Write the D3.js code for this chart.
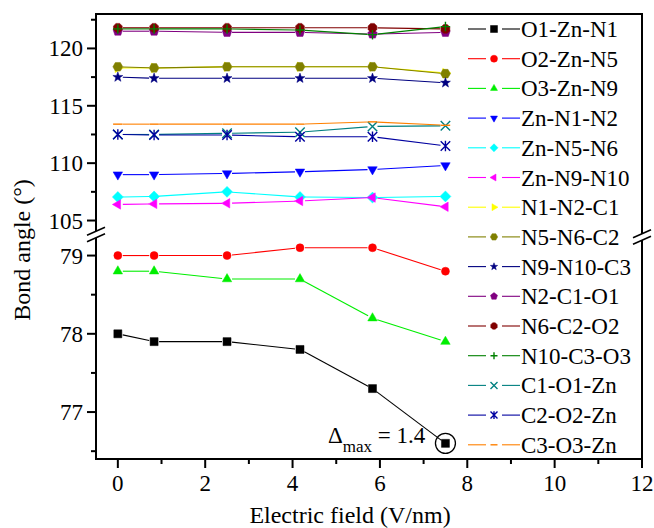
<!DOCTYPE html>
<html><head><meta charset="utf-8">
<script src="https://cdn.jsdelivr.net/npm/d3@7"></script>
<style>body{margin:0;background:#fff}svg{display:block}</style>
</head><body><svg id="c" width="654" height="528" font-family="'Liberation Serif', 'Times New Roman', Times, Tinos, 'Nimbus Roman', 'Nimbus Roman No9 L', FreeSerif, 'Noto Serif', 'Noto Serif CJK SC', 'DejaVu Serif', serif"></svg>
<script>
// ---------- data ----------
const xValues = [0, 0.83, 2.5, 4.17, 5.83, 7.5];
const seriesNames = ["O1-Zn-N1","O2-Zn-N5","O3-Zn-N9","Zn-N1-N2","Zn-N5-N6","Zn-N9-N10","N1-N2-C1","N5-N6-C2","N9-N10-C3","N2-C1-O1","N6-C2-O2","N10-C3-O3","C1-O1-Zn","C2-O2-Zn","C3-O3-Zn"];
const O1_Zn_N1  = [78.0, 77.9, 77.9, 77.8, 77.3, 76.6];
const O2_Zn_N5  = [79.0, 79.0, 79.0, 79.1, 79.1, 78.8];
const O3_Zn_N9  = [78.8, 78.8, 78.7, 78.7, 78.2, 77.9];
const Zn_N1_N2  = [109.0, 109.0, 109.1, 109.25, 109.45, 109.8];
const Zn_N5_N6  = [107.05, 107.1, 107.5, 107.05, 107.0, 107.1];
const Zn_N9_N10 = [106.4, 106.45, 106.5, 106.7, 107.0, 106.2];
const N1_N2_C1  = [118.3, 118.3, 118.4, 118.4, 118.4, 117.85];
const N5_N6_C2  = [118.4, 118.3, 118.4, 118.4, 118.4, 117.8];
const N9_N10_C3 = [117.5, 117.4, 117.4, 117.4, 117.4, 117.0];
const N2_C1_O1  = [121.5, 121.5, 121.4, 121.4, 121.25, 121.4];
const N6_C2_O2  = [121.8, 121.8, 121.8, 121.8, 121.8, 121.7];
const N10_C3_O3 = [121.7, 121.7, 121.7, 121.6, 121.2, 121.9];
const C1_O1_Zn  = [112.5, 112.5, 112.6, 112.7, 113.2, 113.25];
const C2_O2_Zn  = [112.5, 112.45, 112.45, 112.3, 112.3, 111.5];
const C3_O3_Zn  = [113.4, 113.4, 113.4, 113.4, 113.6, 113.3];
const seriesValues = [O1_Zn_N1,O2_Zn_N5,O3_Zn_N9,Zn_N1_N2,Zn_N5_N6,Zn_N9_N10,N1_N2_C1,N5_N6_C2,N9_N10_C3,N2_C1_O1,N6_C2_O2,N10_C3_O3,C1_O1_Zn,C2_O2_Zn,C3_O3_Zn];
const seriesColors = ["#000000","#FF0000","#00EE00","#0000FF","#00FFFF","#FF00FF","#FFFF00","#808000","#000080","#800080","#800000","#008000","#008080","#0000A0","#FF8000"];
const seriesSymbols = ["square","circle","triUp","triDown","diamond","triLeft","triRight","hexagon","star","pentagon","octagon","plus","cross","asterisk","dash"];
const xTicks = [0,2,4,6,8,10,12];
const xMinorTicks = [1,3,5,7,9,11];
const yUpperTicks = [105,110,115,120];
const yUpperMinor = [107.5,112.5,117.5,122.5];
const yLowerTicks = [77,78,79];
const yLowerMinor = [76.5,77.5,78.5];
const annotation = {value:"1.4"};

// ---------- layout ----------
const svg = d3.select("#c");
const L=96, R=642, T=14, B=459;
const x = d3.scaleLinear().domain([-0.5,12]).range([L,R]);
const yU = d3.scaleLinear().domain([104,123]).range([232,T]);
const yL = d3.scaleLinear().domain([76.4,79.25]).range([B,236]);
const yFor = v => v > 90 ? yU(v) : yL(v);

// ---------- markers ----------
function poly(n, r, rot){ const p=[]; for(let i=0;i<n;i++){const a=rot+i*2*Math.PI/n; p.push([r*Math.cos(a), r*Math.sin(a)]);} return "M"+p.map(d=>d.join(",")).join("L")+"Z"; }
function markerPath(type, s){
  const r=s/2;
  switch(type){
    case "square": return `M${-r},${-r}H${r}V${r}H${-r}Z`;
    case "circle": return d3.symbol(d3.symbolCircle, Math.PI*r*r)();
    case "triUp": return poly(3, r*1.15, -Math.PI/2);
    case "triDown": return poly(3, r*1.15, Math.PI/2);
    case "triLeft": return poly(3, r*1.15, Math.PI);
    case "triRight": return poly(3, r*1.15, 0);
    case "diamond": return poly(4, r*1.15, 0);
    case "hexagon": return poly(6, r*1.05, 0);
    case "octagon": return poly(8, r, Math.PI/8);
    case "pentagon": return poly(5, r*1.05, -Math.PI/2);
    case "star": { const p=[]; for(let i=0;i<10;i++){const a=-Math.PI/2+i*Math.PI/5; const rr=i%2?r*0.45:r*1.1; p.push([rr*Math.cos(a), rr*Math.sin(a)]);} return "M"+p.map(d=>d.join(",")).join("L")+"Z"; }
    case "plus": return `M${-r},0H${r}M0,${-r}V${r}`;
    case "cross": return `M${-r},${-r}L${r},${r}M${-r},${r}L${r},${-r}`;
    case "asterisk": return `M${-r},${-r}L${r},${r}M${-r},${r}L${r},${-r}M0,${-r*1.1}V${r*1.1}`;
    case "dash": return `M${-r},0H${r}`;
  }
}
const strokeOnly = t => ["plus","cross","asterisk","dash"].includes(t);
function drawMarker(g, type, color, cx, cy, s){
  const p = g.append("path").attr("d", markerPath(type,s)).attr("transform",`translate(${cx},${cy})`);
  if(strokeOnly(type)) p.attr("fill","none").attr("stroke",color).attr("stroke-width",1.4);
  else p.attr("fill",color).attr("stroke",color).attr("stroke-width",0.5);
}

// ---------- series ----------
const gap = 5;
seriesValues.forEach((vals, si) => {
  const g = svg.append("g");
  const color = seriesColors[si];
  const pts = vals.map((v,i)=>[x(xValues[i]), yFor(v)]);
  for(let i=0;i<pts.length-1;i++){
    const [x1,y1]=pts[i],[x2,y2]=pts[i+1];
    const dx=x2-x1, dy=y2-y1, len=Math.hypot(dx,dy);
    if(len<=2*gap) continue;
    const ux=dx/len, uy=dy/len;
    g.append("line").attr("x1",x1+ux*gap).attr("y1",y1+uy*gap).attr("x2",x2-ux*gap).attr("y2",y2-uy*gap)
      .attr("stroke",color).attr("stroke-width",1.1);
  }
  const sz = ["square","circle"].includes(seriesSymbols[si]) ? 8 : 9.5;
  pts.forEach(([cx,cy])=>drawMarker(g, seriesSymbols[si], color, cx, cy, sz));
});

// ---------- annotation ----------
const last = O1_Zn_N1.length-1;
svg.append("circle").attr("cx",x(xValues[last])).attr("cy",yL(O1_Zn_N1[last])).attr("r",10)
  .attr("fill","none").attr("stroke","#000").attr("stroke-width",1.3);
const at = svg.append("text").attr("x",328).attr("y",443).attr("font-size",23);
at.append("tspan").text("Δ");
at.append("tspan").attr("font-size",17).attr("dy",9).text("max");
at.append("tspan").attr("dy",-9).text(" = "+annotation.value);

// ---------- axes ----------
const ax = svg.append("g").attr("stroke","#000").attr("fill","none");
ax.append("path").attr("d",`M${L},${T}H${R}V${B}H${L}Z`).attr("stroke-width",2);
xTicks.forEach(t=>ax.append("line").attr("x1",x(t)).attr("x2",x(t)).attr("y1",B).attr("y2",B+9).attr("stroke-width",2));
xMinorTicks.forEach(t=>ax.append("line").attr("x1",x(t)).attr("x2",x(t)).attr("y1",B).attr("y2",B+5).attr("stroke-width",2));
yUpperTicks.forEach(t=>ax.append("line").attr("x1",L-9).attr("x2",L).attr("y1",yU(t)).attr("y2",yU(t)).attr("stroke-width",2));
yUpperMinor.forEach(t=>ax.append("line").attr("x1",L-5).attr("x2",L).attr("y1",yU(t)).attr("y2",yU(t)).attr("stroke-width",2));
yLowerTicks.forEach(t=>ax.append("line").attr("x1",L-9).attr("x2",L).attr("y1",yL(t)).attr("y2",yL(t)).attr("stroke-width",2));
yLowerMinor.forEach(t=>ax.append("line").attr("x1",L-5).attr("x2",L).attr("y1",yL(t)).attr("y2",yL(t)).attr("stroke-width",2));
function breakMark(cx, cy){
  const w=9, h=4, d=3.2;
  svg.append("path").attr("d",`M${cx-w},${cy-d+h}L${cx+w},${cy-d-h}L${cx+w},${cy+d-h}L${cx-w},${cy+d+h}Z`).attr("fill","#fff");
  svg.append("line").attr("x1",cx-w).attr("y1",cy-d+h).attr("x2",cx+w).attr("y2",cy-d-h).attr("stroke","#000").attr("stroke-width",1.6);
  svg.append("line").attr("x1",cx-w).attr("y1",cy+d+h).attr("x2",cx+w).attr("y2",cy+d-h).attr("stroke","#000").attr("stroke-width",1.6);
}
breakMark(L, 234.5);
breakMark(R, 237);

const tl = svg.append("g").attr("font-size",23);
xTicks.forEach(t=>tl.append("text").attr("x",x(t)).attr("y",491).attr("text-anchor","middle").text(t));
yUpperTicks.forEach(t=>tl.append("text").attr("x",83).attr("y",yU(t)+8).attr("text-anchor","end").text(t));
yLowerTicks.forEach(t=>tl.append("text").attr("x",83).attr("y",yL(t)+8).attr("text-anchor","end").text(t));

svg.append("text").attr("x",350).attr("y",523).attr("text-anchor","middle").attr("font-size",24).text("Electric field (V/nm)");
svg.append("text").attr("transform","translate(30,250) rotate(-90)").attr("text-anchor","middle").attr("font-size",24).text("Bond angle (°)");

const lg = svg.append("g");
seriesNames.forEach((name,i)=>{
  const cy = 29 + i*29.7, color=seriesColors[i];
  lg.append("line").attr("x1",468).attr("x2",486).attr("y1",cy).attr("y2",cy).attr("stroke",color).attr("stroke-width",1.1);
  lg.append("line").attr("x1",502).attr("x2",520).attr("y1",cy).attr("y2",cy).attr("stroke",color).attr("stroke-width",1.1);
  drawMarker(lg, seriesSymbols[i], color, 494, cy, 7);
  lg.append("text").attr("x",521).attr("y",cy+8).attr("font-size",23).text(name);
});
</script></body></html>
